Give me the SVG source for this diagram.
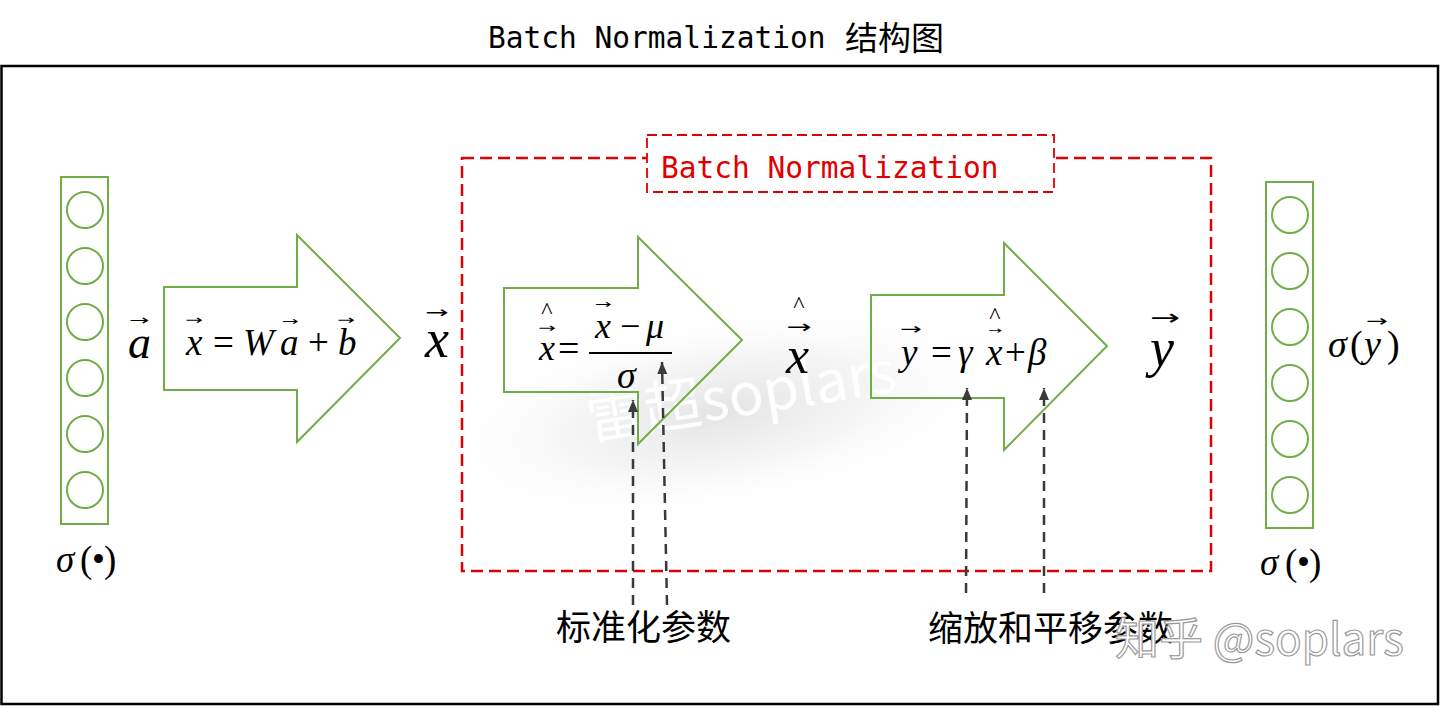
<svg xmlns="http://www.w3.org/2000/svg" width="1440" height="707" viewBox="0 0 1440 707">
<defs>
<style>
.frame{fill:none;stroke:#000;stroke-width:2.5}
.mono{font-family:"DejaVu Sans Mono","Liberation Mono",monospace;font-size:29.5px}
.cjk{font-family:"Noto Sans CJK SC","Noto Sans",sans-serif}
.red{fill:#e00000}
.bnbox{fill:none;stroke:#e00000;stroke-width:2.5;stroke-dasharray:12 6}
.bnlab{fill:#fff;stroke:#e00000;stroke-width:1.8;stroke-dasharray:10 5}
.col{fill:#fff;stroke:#70ad47;stroke-width:2}
.neu{fill:none;stroke:#70ad47;stroke-width:2}
.arr{fill:none;stroke:#70ad47;stroke-width:2;stroke-linejoin:miter}
.m{font-family:"Liberation Serif","Times New Roman",serif;font-style:italic;fill:#000}
.n{font-style:normal}
.v{font-family:"DejaVu Sans",sans-serif;font-style:normal;text-anchor:middle;fill:#000}
.h{font-family:"Liberation Serif","Times New Roman",serif;font-style:normal;text-anchor:middle;fill:#000;font-size:24px}
.conn{fill:none;stroke:#3a3a3a;stroke-width:2.5;stroke-dasharray:10 7}
.lab{font-family:"Noto Sans CJK SC","Noto Sans",sans-serif;font-size:35px;fill:#000}
</style>
<marker id="ah" viewBox="0 0 12 10" refX="12" refY="5" markerWidth="12" markerHeight="10" markerUnits="userSpaceOnUse" orient="auto">
<path d="M0,0 L12,5 L0,10 z" fill="#3a3a3a"/>
</marker>
<radialGradient id="wm" cx="0.5" cy="0.5" r="0.5">
<stop offset="0" stop-color="#c8c8c8" stop-opacity="0.5"/>
<stop offset="0.55" stop-color="#dddddd" stop-opacity="0.28"/>
<stop offset="1" stop-color="#ffffff" stop-opacity="0"/>
</radialGradient>
</defs>
<rect x="0" y="0" width="1440" height="707" fill="#fff"/>

<g id="watermark">
<ellipse cx="720" cy="412" rx="290" ry="100" fill="url(#wm)" transform="rotate(-9 720 412)"/>
<text x="590" y="440" class="cjk" font-size="58" fill="#fff" fill-opacity="0.9" transform="rotate(-9 590 440)">雷超soplars</text>
</g>

<g id="title">
<text class="mono" x="488" y="48">Batch Normalization</text>
<text class="cjk" x="845" y="50" font-size="33">结构图</text>
</g>

<rect id="frame" class="frame" x="1.5" y="66" width="1436.5" height="638"/>

<g id="bn-region">
<rect class="bnbox" x="462" y="158" width="749" height="413"/>
<rect class="bnlab" x="647" y="135" width="407" height="57"/>
<text class="mono red" x="661" y="178">Batch Normalization</text>
</g>

<g id="input-layer">
<rect class="col" x="61" y="177" width="47" height="347"/>
<circle class="neu" cx="85" cy="210" r="18"/>
<circle class="neu" cx="85" cy="266" r="18"/>
<circle class="neu" cx="85" cy="322" r="18"/>
<circle class="neu" cx="85" cy="378" r="18"/>
<circle class="neu" cx="85" cy="434" r="18"/>
<circle class="neu" cx="85" cy="490" r="18"/>
<text class="m" font-size="37" y="572"><tspan x="56">σ</tspan><tspan class="n" x="80">(</tspan><tspan class="n" x="92">•</tspan><tspan class="n" x="104">)</tspan></text>
</g>

<g id="vec-a">
<text class="m" font-size="46" x="128" y="358">a</text>
<text class="v" font-size="24" transform="translate(139 325) scale(1 0.6)">→</text>
</g>

<g id="linear">
<polygon class="arr" points="164,287 297,287 297,235 400,338 297,442 297,390 164,390"/>
<text class="m" font-size="37" y="355"><tspan x="186">x</tspan><tspan class="n" x="213">=</tspan><tspan x="243">W</tspan><tspan x="280">a</tspan><tspan class="n" x="308">+</tspan><tspan x="338">b</tspan></text>
<text class="v" font-size="21" transform="translate(194 324) scale(1 0.6)">→</text>
<text class="v" font-size="20" transform="translate(290 325) scale(1 0.6)">→</text>
<text class="v" font-size="21" transform="translate(346 324) scale(1 0.6)">→</text>
</g>

<g id="vec-x">
<text class="m" font-size="54" x="425" y="357">x</text>
<text class="v" font-size="28" transform="translate(437 318) scale(1 0.6)">→</text>
</g>

<g id="normalize">
<polygon class="arr" points="504,288 638,288 638,237 742,340 638,444 638,392 504,392"/>
<text class="m" font-size="36" x="539" y="360">x</text>
<text class="v" font-size="21" transform="translate(547 332) scale(1 0.6)">→</text>
<text class="h" x="547" y="318">^</text>
<text class="m n" font-size="38" x="558" y="361">=</text>
<line x1="589" y1="353" x2="672" y2="353" stroke="#000" stroke-width="1.8"/>
<text class="m" font-size="36" y="338"><tspan x="595">x</tspan><tspan class="n" x="620">−</tspan><tspan x="646">μ</tspan></text>
<text class="v" font-size="20" transform="translate(603 308) scale(1 0.6)">→</text>
<text class="m" font-size="38" x="617" y="388">σ</text>
</g>

<g id="vec-xhat">
<text class="m" font-size="52" x="786" y="373">x</text>
<text class="v" font-size="30" transform="translate(799 333) scale(1 0.6)">→</text>
<text class="h" font-size="26" x="799" y="312">^</text>
</g>

<g id="scale-shift">
<polygon class="arr" points="871,295 1004,295 1004,243 1107,346 1004,450 1004,398 871,398"/>
<text class="m" font-size="37" y="365"><tspan x="901">y</tspan><tspan class="n" x="931">=</tspan><tspan x="958">γ</tspan><tspan x="986">x</tspan><tspan class="n" x="1005">+</tspan><tspan x="1028">β</tspan></text>
<text class="v" font-size="26" transform="translate(911 334) scale(1 0.6)">→</text>
<text class="v" font-size="17" transform="translate(995 334) scale(1 0.6)">→</text>
<text class="h" x="995" y="323">^</text>
</g>

<g id="vec-y">
<text class="m" font-size="54" x="1150" y="366">y</text>
<text class="v" font-size="36" transform="translate(1165 325) scale(1 0.6)">→</text>
</g>

<g id="output-layer">
<rect class="col" x="1266" y="182" width="47" height="346"/>
<circle class="neu" cx="1290" cy="215" r="18"/>
<circle class="neu" cx="1290" cy="271" r="18"/>
<circle class="neu" cx="1290" cy="327" r="18"/>
<circle class="neu" cx="1290" cy="383" r="18"/>
<circle class="neu" cx="1290" cy="439" r="18"/>
<circle class="neu" cx="1290" cy="495" r="18"/>
<text class="m" font-size="38" y="357"><tspan x="1328">σ</tspan><tspan class="n" x="1350">(</tspan><tspan x="1364">y</tspan><tspan class="n" x="1387">)</tspan></text>
<text class="v" font-size="26" transform="translate(1377 326) scale(1 0.6)">→</text>
<text class="m" font-size="37" y="575"><tspan x="1260">σ</tspan><tspan class="n" x="1285">(</tspan><tspan class="n" x="1297">•</tspan><tspan class="n" x="1309">)</tspan></text>
</g>

<g id="connectors">
<line class="conn" x1="633" y1="605" x2="633" y2="400" marker-end="url(#ah)"/>
<line class="conn" x1="667" y1="605" x2="662" y2="362" marker-end="url(#ah)"/>
<line class="conn" x1="966" y1="593" x2="967" y2="388" marker-end="url(#ah)"/>
<line class="conn" x1="1044" y1="593" x2="1044" y2="388" marker-end="url(#ah)"/>
</g>

<g id="labels">
<text class="lab" x="556" y="640">标准化参数</text>
<text class="lab" x="928" y="641">缩放和平移参数</text>
</g>

<g id="zhihu-mark">
<text class="cjk" x="1115" y="655" font-size="44" fill="#fff" stroke="#9a9a9a" stroke-width="1.2">知乎 @soplars</text>
</g>
</svg>
